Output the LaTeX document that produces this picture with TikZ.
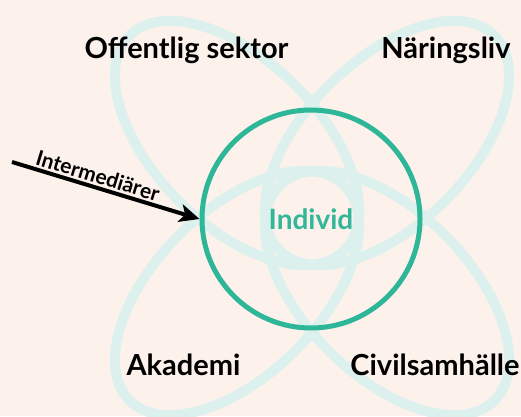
\documentclass[tikz,border=0pt]{standalone}
\usepackage{fontspec}
\setmainfont{Lato}
\usetikzlibrary{arrows.meta}
\definecolor{bgcol}{HTML}{FCF1EB}
\definecolor{petalcol}{HTML}{DCF1EE}
\definecolor{ringcol}{HTML}{2EB698}
\definecolor{indcol}{HTML}{33B799}
\begin{document}
\begin{tikzpicture}[x=1pt,y=1pt,
  petal/.style={draw=petalcol, line width=10pt},
  lab/.style={font=\bfseries\fontsize{29}{32}\selectfont, anchor=base, inner sep=0pt, text=black},
  arrowline/.style={line width=4pt, -{Stealth[length=20pt,width=18pt,inset=5pt]}}]
\fill[bgcol] (0,0) rectangle (521,416);
\useasboundingbox (0,0) rectangle (521,416);
\draw[petal, rotate around={-45:(237,273)}] (237,273) ellipse [x radius=152, y radius=82];
\draw[petal, rotate around={45:(387,273)}] (387,273) ellipse [x radius=152, y radius=82];
\draw[petal, rotate around={45:(237,123)}] (237,123) ellipse [x radius=152, y radius=82];
\draw[petal, rotate around={-45:(387,123)}] (387,123) ellipse [x radius=152, y radius=82];
\node[circle, draw=ringcol, line width=5pt, minimum size=218pt, inner sep=0pt,
  font=\bfseries\fontsize{28}{30}\selectfont, text=indcol] (ind) at (311,197) {Individ};
\node[lab] (off) at (186.5,357) {Offentlig sektor};
\node[lab] (nar) at (446,357) {Näringsliv};
\node[lab] (aka) at (183.5,41) {Akademi};
\node[lab] (civ) at (435,41) {Civilsamhälle};
\coordinate (src) at (12,254);
\draw[arrowline] (src) -- (ind.west)
  node[pos=0.44, sloped, above, inner sep=2pt, font=\bfseries\fontsize{21}{23}\selectfont] (inter) {Intermediärer};
\end{tikzpicture}
\end{document}
